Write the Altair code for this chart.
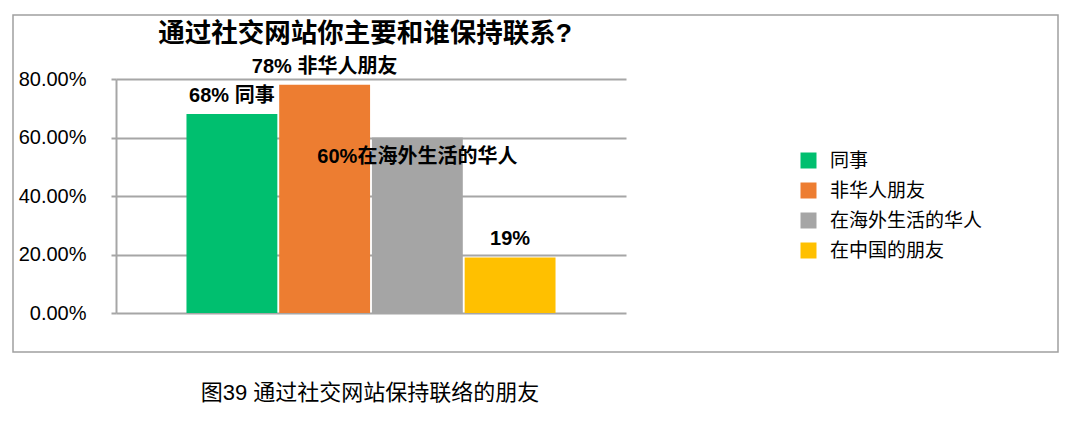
import altair as alt
import pandas as pd

categories = ["同事", "非华人朋友", "在海外生活的华人", "在中国的朋友"]
shares = [0.68, 0.78, 0.60, 0.19]
bar_labels = ["68% 同事", "78% 非华人朋友", "60%在海外生活的华人", "19%"]
colors = ["#00bf6f", "#ed7d31", "#a5a5a5", "#ffc000"]
y_ticks = [0.0, 0.2, 0.4, 0.6, 0.8]
chart_title = "通过社交网站你主要和谁保持联系?"
caption = "图39 通过社交网站保持联络的朋友"
inside_label = "在海外生活的华人"  # Excel put this one label inside its bar

FONT = "Liberation Sans, Noto Sans CJK SC"
GRID = "#a6a6a6"

df = pd.DataFrame({"group": categories, "share": shares, "label": bar_labels})

x = alt.X(
    "group:N",
    sort=categories,
    axis=None,
    scale=alt.Scale(paddingInner=0.02, paddingOuter=0.76),
)
y = alt.Y(
    "share:Q",
    title=None,
    scale=alt.Scale(domain=[0, 0.8], nice=False),
    axis=alt.Axis(
        values=y_ticks,
        format=".2%",
        grid=True,
        gridColor=GRID,
        gridWidth=2,
        domainColor=GRID,
        domainWidth=2,
        tickColor=GRID,
        tickWidth=2,
        tickSize=5,
        labelPadding=25,
        labelFontSize=20,
        labelFont=FONT,
        labelColor="black",
    ),
)

base = alt.Chart(df).encode(x=x, y=y)

bars = base.mark_bar().encode(
    color=alt.Color(
        "group:N",
        sort=categories,
        scale=alt.Scale(domain=categories, range=colors),
        legend=alt.Legend(
            orient="none",
            legendX=683,
            legendY=72,
            title=None,
            symbolType="square",
            symbolSize=256,
            symbolStrokeWidth=0,
            labelFontSize=19,
            labelFont=FONT,
            labelColor="black",
            labelOffset=12,
            rowPadding=10,
        ),
    )
)

label_style = dict(fontSize=20, fontWeight="bold", font=FONT, color="black")
above = (
    base.transform_filter(alt.datum.group != inside_label)
    .mark_text(dy=-18, **label_style)
    .encode(text="label:N")
)
inside = (
    base.transform_filter(alt.datum.group == inside_label)
    .mark_text(dy=19, **label_style)
    .encode(text="label:N")
)

title_txt = (
    alt.Chart(pd.DataFrame({"t": [chart_title]}))
    .mark_text(fontSize=26.5, fontWeight="bold", font=FONT, color="black")
    .encode(x=alt.value(249), y=alt.value(-45), text="t:N")
)
caption_txt = (
    alt.Chart(pd.DataFrame({"t": [caption]}))
    .mark_text(fontSize=22, font=FONT, color="black")
    .encode(x=alt.value(254), y=alt.value(314), text="t:N")
)

# the grey frame Excel draws round the chart object
box = (
    alt.Chart(pd.DataFrame({"b": [0]}))
    .mark_rect(filled=False, stroke="#a0a0a0", strokeWidth=1.5)
    .encode(x=alt.value(-103), x2=alt.value(942), y=alt.value(-64), y2=alt.value(273))
)

chart = (
    alt.layer(box, bars, above, inside, title_txt, caption_txt)
    .properties(
        width=510,
        height=234,
        padding={"left": 108, "top": 71, "right": 440, "bottom": 100},
        autosize=alt.AutoSizeParams(type="none"),
    )
    .configure_view(stroke=None)
)

chart.save("out.html", embed_options={"renderer": "svg", "actions": False})
